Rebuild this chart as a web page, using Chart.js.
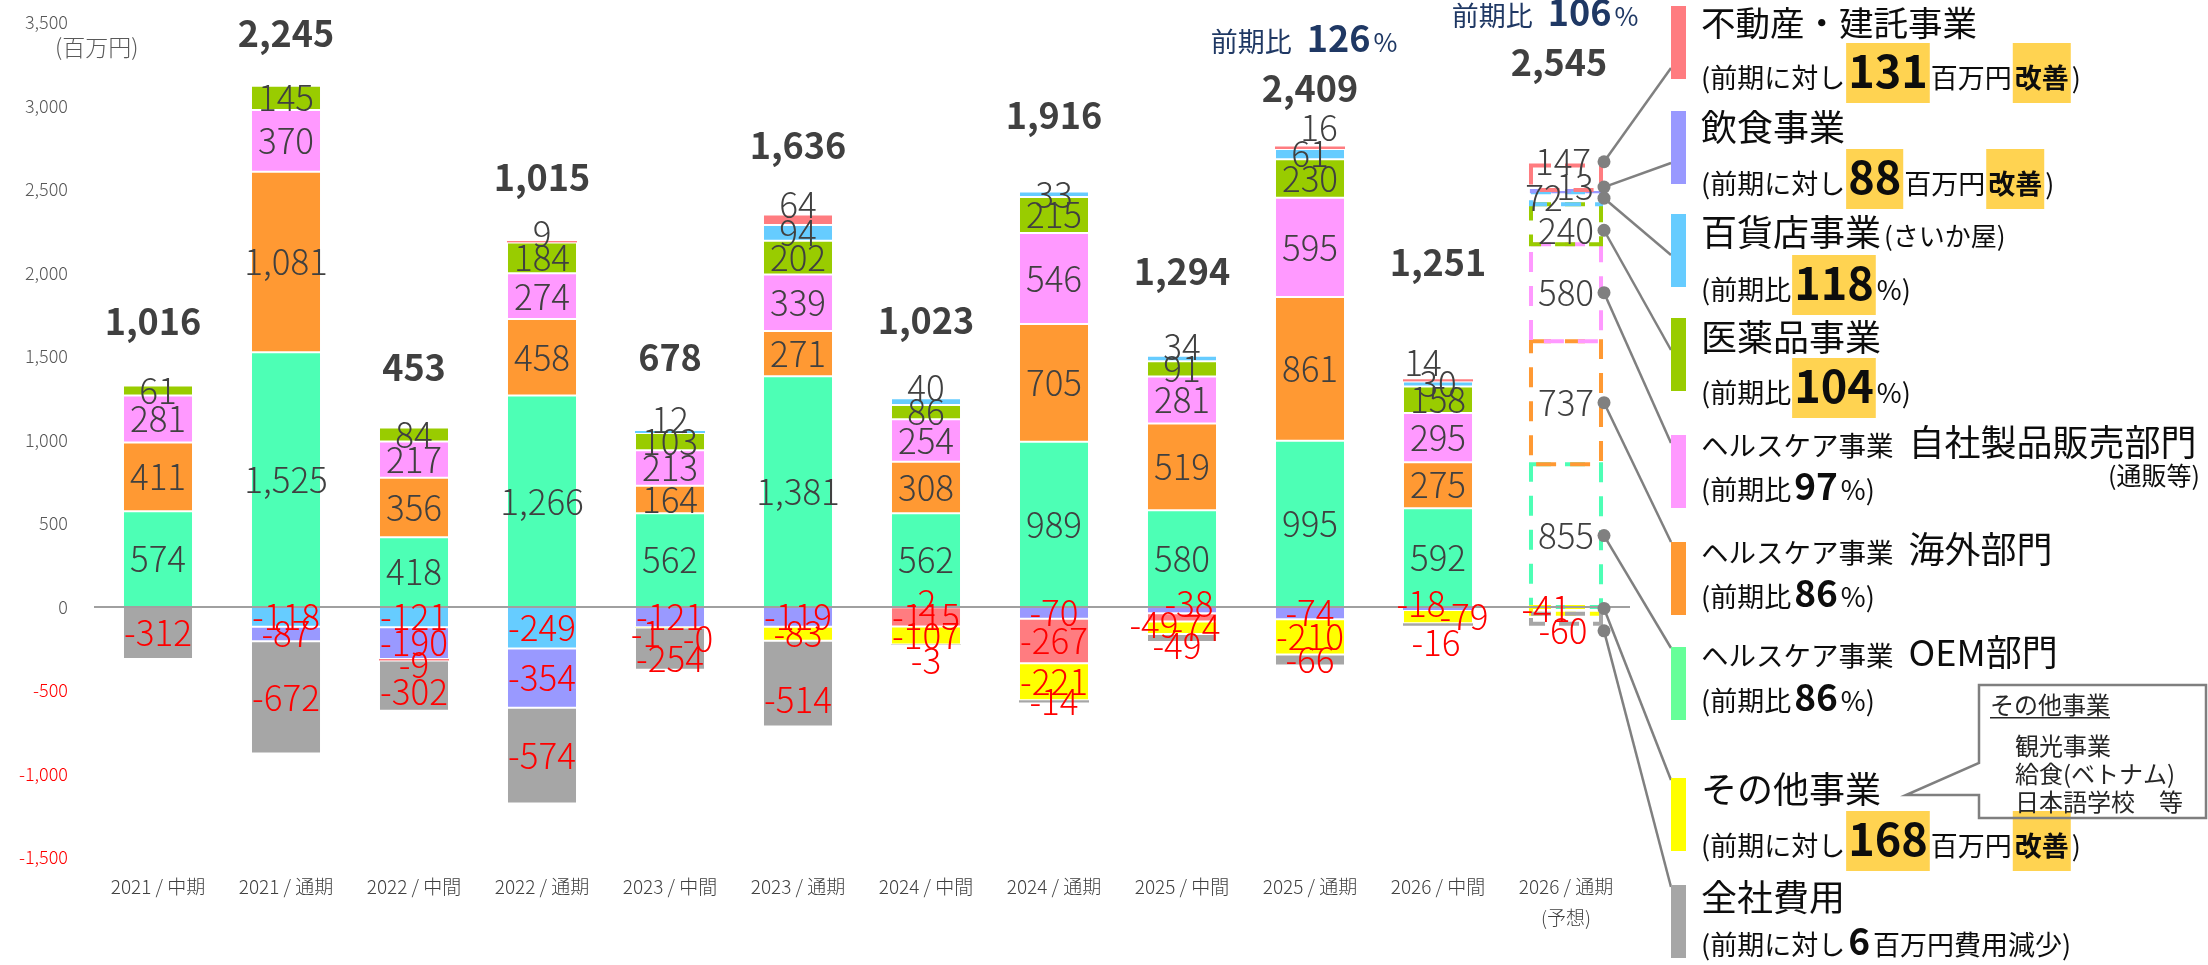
<!DOCTYPE html>
<html lang="ja">
<head>
<meta charset="utf-8">
<title>セグメント別営業利益の推移</title>
<script src="https://cdn.jsdelivr.net/npm/chart.js@4.4.1/dist/chart.umd.min.js"></script>
<style>
  html, body { margin: 0; padding: 0; background: #ffffff; }
  canvas { display: block; }
</style>
</head>
<body>
<canvas id="chart" width="2208" height="965" style="width:2208px;height:965px"></canvas>
<script>
// ---- data (百万円) ----
const categories = ['2021 / 中期', '2021 / 通期', '2022 / 中間', '2022 / 通期', '2023 / 中間', '2023 / 通期',
                    '2024 / 中間', '2024 / 通期', '2025 / 中間', '2025 / 通期', '2026 / 中間', '2026 / 通期'];
const forecastIndex = 11;
const forecastNote = '(予想)';

const oem        = [574, 1525, 418, 1266, 562, 1381, 562, 989, 580, 995, 592, 855];
const overseas   = [411, 1081, 356, 458, 164, 271, 308, 705, 519, 861, 275, 737];
const ownProduct = [281, 370, 217, 274, 213, 339, 254, 546, 281, 595, 295, 580];
const pharma     = [61, 145, 84, 184, 103, 202, 86, 215, 91, 230, 158, 240];
const deptStore  = [null, -118, -121, -249, 12, 94, 40, 33, 34, 61, 30, 72];
const restaurant = [null, -87, -190, -354, -121, -119, -2, -70, -38, -74, -18, 13];
const realEstate = [null, null, -9, 9, -1, 64, -115, -267, -49, 16, 14, 147];
const otherBiz   = [null, null, null, null, -0.4, -83, -107, -221, -74, -210, -79, -41];
const corporate  = [-312, -672, -302, -574, -254, -514, -3, -14, -49, -66, -16, -60];

const totals = [1016, 2245, 453, 1015, 678, 1636, 1023, 1916, 1294, 2409, 1251, 2545];
const yoyIndex = [9, 11];
const yoyPct   = [126, 106];

const yMin = -1500, yMax = 3500, yStep = 500;

// ---- series table (stack order: positives bottom-up, negatives top-down) ----
const series = [
  { key: 'oem',        name: 'ヘルスケア事業 OEM部門',  data: oem,        color: '#4DFFB5' },
  { key: 'overseas',   name: 'ヘルスケア事業 海外部門',  data: overseas,   color: '#FF9933' },
  { key: 'own',        name: 'ヘルスケア事業 自社製品販売部門', data: ownProduct, color: '#FF99FF' },
  { key: 'pharma',     name: '医薬品事業',              data: pharma,     color: '#99CC00' },
  { key: 'dept',       name: '百貨店事業',              data: deptStore,  color: '#66CCFF' },
  { key: 'restaurant', name: '飲食事業',                data: restaurant, color: '#9999FF' },
  { key: 'realEstate', name: '不動産・建託事業',         data: realEstate, color: '#FF7C80' },
  { key: 'other',      name: 'その他事業',              data: otherBiz,   color: '#FFFF00' },
  { key: 'corporate',  name: '全社費用',                data: corporate,  color: '#A6A6A6' }
];

// ---- label placement tweaks (pixels) ----
const tweaks = {
  totalLift: [64, 52, 60, 64, 74, 69, 78, 76, 84, 58, 117, 103],
  totalDx:   [-5, 0, 0, 0, 0, 0, 0, 0, 0, 0, 0, -7],
  yoyDx: { 9: -6, 11: -21 },
  segmentNudge: {
    'realEstate-3': [0, -8],
    'dept-4': [0, -12], 'realEstate-4': [-24, 6], 'other-4': [28, 11], 'corporate-4': [0, 10],
    'realEstate-5': [0, -15], 'corporate-5': [0, 16],
    'realEstate-2': [0, 5], 'corporate-2': [0, 6],
    'dept-6': [0, -14], 'restaurant-6': [-5, -4], 'corporate-6': [0, 16],
    'dept-8': [0, -12], 'restaurant-8': [7, -6], 'realEstate-8': [-28, 7], 'other-8': [14, 0], 'corporate-8': [-5, 8],
    'realEstate-9': [9, -20],
    'realEstate-10': [-15, -18], 'restaurant-10': [-17, -5], 'other-10': [26, 0], 'corporate-10': [-2, 18],
    'realEstate-11': [-3, -16], 'restaurant-11': [9, -4], 'dept-11': [-22, 0], 'pharma-11': [0, 6],
    'other-11': [-20, -2], 'corporate-11': [-3, 12]
  }
};

// ---- right-hand segment panel ----
const HL = '#FFD351';
const panel = [
  { key: 'realEstate', color: '#FF7C80', top: 6, anchorDy: 62,
    title: [{ t: '不動産・建託事業', size: 34.5 }], titleBase: 36,
    sub: [{ t: '(前期に対し', size: 27 }, { t: '131', size: 45, bold: true, box: true }, { t: '百万円', size: 27 },
          { t: '改善', size: 27, bold: true, box: true }, { t: ')', size: 27 }], subBase: 88 },
  { key: 'restaurant', color: '#9999FF', top: 111, anchorDy: 52,
    title: [{ t: '飲食事業', size: 36 }], titleBase: 141,
    sub: [{ t: '(前期に対し', size: 27 }, { t: '88', size: 45, bold: true, box: true }, { t: '百万円', size: 27 },
          { t: '改善', size: 27, bold: true, box: true }, { t: ')', size: 27 }], subBase: 194 },
  { key: 'dept', color: '#66CCFF', top: 214, anchorDy: 41,
    title: [{ t: '百貨店事業', size: 36 }, { gap: 3 }, { t: '(さいか屋)', size: 26 }], titleBase: 246,
    sub: [{ t: '(前期比', size: 27 }, { t: '118', size: 45, bold: true, box: true }, { t: '%)', size: 27 }], subBase: 300 },
  { key: 'pharma', color: '#99CC00', top: 318, anchorDy: 32,
    title: [{ t: '医薬品事業', size: 36 }], titleBase: 351,
    sub: [{ t: '(前期比', size: 27 }, { t: '104', size: 45, bold: true, box: true }, { t: '%)', size: 27 }], subBase: 403 },
  { key: 'own', color: '#FF99FF', top: 435, anchorDy: 8,
    title: [{ t: 'ヘルスケア事業', size: 27.5 }, { gap: 15 }, { t: '自社製品販売部門', size: 36 }], titleBase: 456,
    note: { t: '(通販等)', size: 25, right: 2200, base: 485 },
    sub: [{ t: '(前期比', size: 27 }, { t: '97', size: 37, bold: true }, { t: '%)', size: 27 }], subBase: 500 },
  { key: 'overseas', color: '#FF9933', top: 542, anchorDy: 0,
    title: [{ t: 'ヘルスケア事業', size: 27.5 }, { gap: 15 }, { t: '海外部門', size: 36 }], titleBase: 563,
    sub: [{ t: '(前期比', size: 27 }, { t: '86', size: 37, bold: true }, { t: '%)', size: 27 }], subBase: 607 },
  { key: 'oem', color: '#66FF99', top: 647, anchorDy: 1,
    title: [{ t: 'ヘルスケア事業', size: 27.5 }, { gap: 15 }, { t: 'OEM部門', size: 36 }], titleBase: 666,
    sub: [{ t: '(前期比', size: 27 }, { t: '86', size: 37, bold: true }, { t: '%)', size: 27 }], subBase: 711 },
  { key: 'other', color: '#FFFF00', top: 778, anchorDy: 2,
    title: [{ t: 'その他事業', size: 36 }], titleBase: 803,
    sub: [{ t: '(前期に対し', size: 27 }, { t: '168', size: 45, bold: true, box: true }, { t: '百万円', size: 27 },
          { t: '改善', size: 27, bold: true, box: true }, { t: ')', size: 27 }], subBase: 856 },
  { key: 'corporate', color: '#A6A6A6', top: 885, anchorDy: 2,
    title: [{ t: '全社費用', size: 36 }], titleBase: 911,
    sub: [{ t: '(前期に対し', size: 27 }, { t: '6', size: 37, bold: true }, { t: '百万円費用減少)', size: 27 }], subBase: 955 }
];
const calloutLines = ['観光事業', '給食(ベトナム)', '日本語学校　等'];

// ---- helpers ----
const FAMILY = '"Noto Sans CJK JP", "Noto Sans", sans-serif';
const font = (size, weight) => `${weight || 400} ${size}px ${FAMILY}`;
const fmt = v => (v < 0 ? '-' : '') + Math.round(Math.abs(v)).toLocaleString('en-US');

// full-width characters get a fixed 1em cell, as in a Japanese slide layout
const isWide = ch => {
  const c = ch.codePointAt(0);
  return c >= 0x2E80 && !(c >= 0xFF61 && c <= 0xFF9F);
};
function textAdvance(ctx, s, size) {
  let w = 0;
  for (const ch of s) w += isWide(ch) ? size : ctx.measureText(ch).width;
  return w;
}
function drawChars(ctx, s, x, y, size) {
  let cx = x;
  for (const ch of s) {
    if (isWide(ch)) {
      ctx.textAlign = 'center';
      ctx.fillText(ch, cx + size / 2, y);
      cx += size;
    } else {
      ctx.textAlign = 'left';
      ctx.fillText(ch, cx, y);
      cx += ctx.measureText(ch).width;
    }
  }
  return cx;
}

function measureRuns(ctx, runs) {
  let w = 0;
  runs.forEach(r => {
    if (r.gap) { w += r.gap; return; }
    ctx.font = font(r.size, r.bold ? 700 : 400);
    w += textAdvance(ctx, r.t, r.size) + ((r.box || r.bold) ? 6 : 0);
  });
  return w;
}

function drawRuns(ctx, runs, x, base, color) {
  let cx = x;
  ctx.textBaseline = 'alphabetic';
  runs.forEach(r => {
    if (r.gap) { cx += r.gap; return; }
    ctx.font = font(r.size, r.bold ? 700 : 400);
    const w = textAdvance(ctx, r.t, r.size);
    if (r.box || r.bold) cx += 3;
    if (r.box) {
      ctx.fillStyle = HL;
      ctx.fillRect(cx - 2, base - 45, w + 4, 60);
    }
    ctx.fillStyle = r.color || color;
    drawChars(ctx, r.t, cx, base, r.size);
    cx += w + ((r.box || r.bold) ? 3 : 0);
  });
  return cx;
}

// ---- overlay: forecast outlines, axis line, labels, panel ----
const overlay = {
  id: 'segmentOverlay',
  afterDatasetsDraw(chart) {
    const { ctx, chartArea } = chart;
    const xs = chart.scales.x, ys = chart.scales.y;
    ctx.save();

    // forecast column drawn as dashed outlines
    series.forEach((s, di) => {
      const v = s.data[forecastIndex];
      if (v == null) return;
      const el = chart.getDatasetMeta(di).data[forecastIndex];
      const top = Math.min(el.y, el.base), bot = Math.max(el.y, el.base);
      const h = bot - top;
      ctx.save();
      ctx.strokeStyle = s.color;
      ctx.lineWidth = Math.max(2, Math.min(4, h));
      ctx.setLineDash([20, 14]);
      ctx.strokeRect(el.x - el.width / 2, top, el.width, h);
      ctx.restore();
    });

    // zero line
    const y0 = ys.getPixelForValue(0);
    ctx.strokeStyle = '#A0A0A0';
    ctx.lineWidth = 2;
    ctx.beginPath();
    ctx.moveTo(chartArea.left, y0);
    ctx.lineTo(chartArea.right, y0);
    ctx.stroke();

    // segment value labels
    const anchors = {};
    ctx.font = font(35, 300);
    ctx.textAlign = 'center';
    ctx.textBaseline = 'middle';
    series.forEach((s, di) => {
      const meta = chart.getDatasetMeta(di);
      s.data.forEach((v, i) => {
        if (v == null) return;
        const el = meta.data[i];
        const n = tweaks.segmentNudge[s.key + '-' + i] || [0, 0];
        const lx = el.x + n[0];
        const ly = (el.y + el.base) / 2 + n[1];
        if (i === forecastIndex) anchors[s.key] = { x: el.x + el.width / 2 + 3, y: ly };
        ctx.fillStyle = v < 0 ? '#FF0000' : '#404040';
        ctx.fillText(fmt(v), lx, ly);
      });
    });

    // totals above each column
    const totalY = [];
    categories.forEach((c, i) => {
      const pos = series.reduce((a, s) => a + (s.data[i] > 0 ? s.data[i] : 0), 0);
      const y = ys.getPixelForValue(pos) - tweaks.totalLift[i];
      totalY[i] = y;
      ctx.font = font(36, 700);
      ctx.fillStyle = '#404040';
      ctx.textAlign = 'center';
      ctx.textBaseline = 'middle';
      ctx.fillText(totals[i].toLocaleString('en-US'), xs.getPixelForValue(i) + tweaks.totalDx[i], y);
    });

    // year-on-year ratios
    yoyIndex.forEach((idx, k) => {
      const runs = [{ t: '前期比', size: 27 }, { gap: 12 }, { t: String(yoyPct[k]), size: 36, bold: true }, { t: '%', size: 26 }];
      const w = measureRuns(ctx, runs);
      const cx = xs.getPixelForValue(idx) + (tweaks.yoyDx[idx] || 0);
      drawRuns(ctx, runs, cx - w / 2, totalY[idx] - 36, '#1F3864');
    });

    // unit caption
    ctx.font = font(23, 300);
    ctx.fillStyle = '#595959';
    ctx.textBaseline = 'alphabetic';
    drawChars(ctx, '(百万円)', 55, 56, 23);

    // connectors from the forecast column to the panel
    const barX = 1671, barW = 15, barH = 73;
    ctx.strokeStyle = '#808080';
    ctx.lineWidth = 2.5;
    panel.forEach(p => {
      const a = anchors[p.key];
      if (!a) return;
      ctx.beginPath();
      ctx.moveTo(a.x, a.y);
      ctx.lineTo(barX, p.top + p.anchorDy);
      ctx.stroke();
    });
    ctx.fillStyle = '#808080';
    panel.forEach(p => {
      const a = anchors[p.key];
      if (!a) return;
      ctx.beginPath();
      ctx.arc(a.x, a.y, 6.5, 0, Math.PI * 2);
      ctx.fill();
    });

    // panel entries
    const textX = 1701;
    panel.forEach(p => {
      ctx.fillStyle = p.color;
      ctx.fillRect(barX, p.top, barW, barH);
      drawRuns(ctx, p.title, textX, p.titleBase, '#0D0D0D');
      drawRuns(ctx, p.sub, textX, p.subBase, '#0D0D0D');
      if (p.note) {
        ctx.font = font(p.note.size);
        ctx.fillStyle = '#0D0D0D';
        const nw = textAdvance(ctx, p.note.t, p.note.size);
        drawChars(ctx, p.note.t, p.note.right - nw, p.note.base, p.note.size);
      }
    });

    // callout describing the "other" segment
    ctx.strokeStyle = '#7F7F7F';
    ctx.lineWidth = 2.5;
    ctx.beginPath();
    ctx.moveTo(1979, 685); ctx.lineTo(2206, 685); ctx.lineTo(2206, 818); ctx.lineTo(1979, 818);
    ctx.lineTo(1979, 795); ctx.lineTo(1906, 795); ctx.lineTo(1979, 763); ctx.closePath();
    ctx.stroke();
    ctx.fillStyle = '#262626';
    ctx.textBaseline = 'alphabetic';
    ctx.font = font(24);
    const head = 'その他事業';
    drawChars(ctx, head, 1990, 714, 24);
    ctx.fillRect(1990, 717, textAdvance(ctx, head, 24), 1.5);
    [755, 783, 811].forEach((b, k) => drawChars(ctx, calloutLines[k], 2015, b, 24));

    ctx.restore();
  }
};

// ---- chart ----
const axisLabels = categories.map((c, i) => (i === forecastIndex ? [c, forecastNote] : c));
const thin = v => Math.abs(v) * 0.167 < 5;

const datasets = series.map(s => ({
  label: s.name,
  data: s.data,
  backgroundColor: c => (c.dataIndex === forecastIndex ? 'rgba(0,0,0,0)' : s.color),
  borderColor: '#FFFFFF',
  borderWidth: c => (c.dataIndex === forecastIndex || c.raw == null || thin(c.raw) ? 0 : 1),
  borderSkipped: false,
  barPercentage: 0.547,
  categoryPercentage: 1.0
}));

new Chart(document.getElementById('chart').getContext('2d'), {
  type: 'bar',
  data: { labels: axisLabels, datasets },
  options: {
    responsive: false,
    animation: false,
    devicePixelRatio: 1,
    layout: { padding: { top: 22.5, right: 578, bottom: 0, left: 0 } },
    plugins: { legend: { display: false }, tooltip: { enabled: false } },
    scales: {
      x: {
        stacked: true,
        grid: { display: false, drawTicks: false },
        border: { display: false },
        ticks: {
          autoSkip: false, maxRotation: 0, padding: 14, color: '#404040',
          font: { family: FAMILY, size: 19, weight: '300', lineHeight: 1.63 }
        },
        afterFit: s => { s.height = 107.5; s.paddingLeft = 0; s.paddingRight = 0; }
      },
      y: {
        stacked: true,
        min: yMin, max: yMax,
        grid: { display: false, drawTicks: false },
        border: { display: false },
        ticks: {
          stepSize: yStep, padding: 26,
          color: c => (c.tick && c.tick.value < 0 ? '#FF0000' : '#595959'),
          font: { family: FAMILY, size: 18, weight: '300' },
          callback: v => v.toLocaleString('en-US')
        },
        afterFit: s => { s.width = 94; s.paddingTop = 0; s.paddingBottom = 0; }
      }
    }
  },
  plugins: [overlay]
});
</script>
</body>
</html>
